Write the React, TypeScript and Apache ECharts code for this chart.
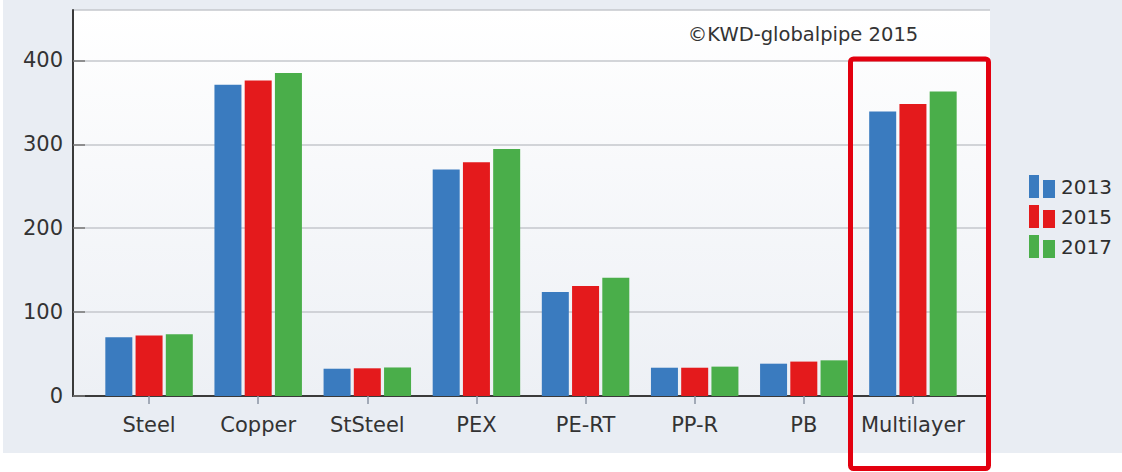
import React, { useEffect, useRef } from "react";
import * as echarts from "echarts";

const categories = ["Steel", "Copper", "StSteel", "PEX", "PE-RT", "PP-R", "PB", "Multilayer"];
const years = ["2013", "2015", "2017"];
const values2013 = [70, 371, 32.5, 270, 124, 33.7, 38.5, 339];
const values2015 = [72, 376, 33, 278.5, 131, 33.7, 41, 348];
const values2017 = [73.6, 385, 34, 294.5, 141, 35, 42.5, 363];
const yTicks = [0, 100, 200, 300, 400];
const colors = ["#3a7bbf", "#e41a1c", "#4aae4a"];
const copyright = "©KWD-globalpipe 2015";

const FONT = "DejaVu Sans";

export default function App() {
  const ref = useRef<HTMLDivElement>(null);
  useEffect(() => {
    if (!ref.current) return;
    const chart = echarts.init(ref.current, undefined, { renderer: "svg" });
    const seriesData = [values2013, values2015, values2017];
    const yMax = 460;
    chart.setOption({
      animation: false,
      backgroundColor: "#ffffff",
      textStyle: { fontFamily: FONT },
      legend: {
        data: years,
        orient: "vertical",
        left: 1024,
        top: 170,
        itemWidth: 28,
        itemHeight: 23,
        itemGap: 7,
        icon: "path://M0,0h10v23h-10z M14,5h12v18h-12z",
        textStyle: { fontSize: 20, color: "#2e2e2e", fontFamily: FONT },
      },
      grid: [
        {
          left: 73,
          top: 10,
          width: 917,
          height: 386,
          show: true,
          borderWidth: 0,
          backgroundColor: new echarts.graphic.LinearGradient(0, 0, 0, 1, [
            { offset: 0, color: "#ffffff" },
            { offset: 1, color: "#edf0f5" },
          ]),
        },
        { left: 94.5, top: 10, width: 873, height: 386 },
      ],
      xAxis: [
        {
          type: "value",
          gridIndex: 0,
          min: 0,
          max: 1,
          axisLine: { show: true, lineStyle: { color: "#3a3a3a", width: 2 } },
          axisTick: { show: false },
          axisLabel: { show: false },
          splitLine: { show: false },
        },
        {
          type: "category",
          gridIndex: 1,
          data: categories,
          axisLine: { show: false },
          axisTick: { show: true, alignWithLabel: true, length: 8, lineStyle: { color: "#8a93a3", width: 1.5 } },
          axisLabel: { fontSize: 21, color: "#333", margin: 18, fontFamily: FONT, interval: 0 },
          splitLine: { show: false },
        },
      ],
      yAxis: [
        {
          type: "value",
          gridIndex: 0,
          min: yTicks[0],
          max: yMax,
          interval: yTicks[1] - yTicks[0],
          axisLine: { show: true, lineStyle: { color: "#3a3a3a", width: 2 } },
          axisTick: { show: true, inside: true, length: 12, lineStyle: { color: "#777", width: 1.5 } },
          axisLabel: {
            fontSize: 21,
            color: "#333",
            margin: 10,
            fontFamily: FONT,
            showMaxLabel: false,
            formatter: (v: number) => (yTicks.includes(v) ? String(v) : ""),
          },
          splitLine: { show: true, lineStyle: { color: "#c4c7cc", width: 1.5 } },
        },
        {
          type: "value",
          gridIndex: 1,
          min: 0,
          max: yMax,
          show: false,
          splitLine: { show: false },
        },
      ],
      series: years.map((y, i) => ({
        name: y,
        type: "bar",
        xAxisIndex: 1,
        yAxisIndex: 1,
        data: seriesData[i],
        barWidth: 27,
        barGap: "12%",
        itemStyle: { color: colors[i] },
      })),
      graphic: [
        {
          type: "rect",
          z: -10,
          silent: true,
          shape: { x: 3, y: 0, width: 1119, height: 453 },
          style: { fill: "#e9edf3" },
        },
        {
          type: "text",
          z: 100,
          x: 803,
          y: 34,
          style: {
            text: copyright,
            fill: "#333",
            fontSize: 19.5,
            fontFamily: FONT,
            textAlign: "center",
            textVerticalAlign: "middle",
          },
        },
        {
          type: "rect",
          z: 100,
          shape: { x: 850.5, y: 59, width: 138, height: 409.5, r: 3 },
          style: { fill: "none", stroke: "#e3000f", lineWidth: 5 },
        },
      ],
    });
    return () => chart.dispose();
  }, []);
  return (
    <div
      ref={ref}
      style={{ position: "fixed", left: 0, top: 0, width: 1122, height: 472 }}
    />
  );
}
